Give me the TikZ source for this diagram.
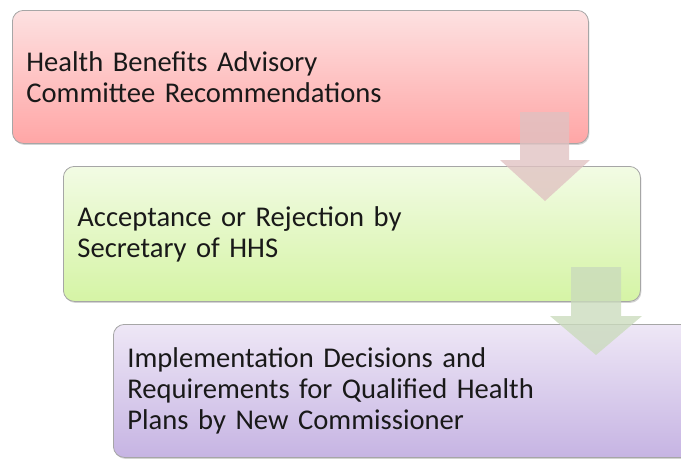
\documentclass[tikz,border=0pt]{standalone}
\usepackage{fontspec}
\setmainfont[WordSpace=0.8]{Carlito}
\usetikzlibrary{shadows}

\definecolor{redtop}{RGB}{253,225,225}
\definecolor{redbot}{RGB}{255,166,166}
\definecolor{greentop}{RGB}{242,251,228}
\definecolor{greenbot}{RGB}{213,244,165}
\definecolor{violettop}{RGB}{238,231,246}
\definecolor{violetbot}{RGB}{198,180,227}
\definecolor{arrowred}{RGB}{224,194,194}
\definecolor{arrowgreen}{RGB}{202,219,188}

\begin{document}
\begin{tikzpicture}[x=1pt, y=-1pt,
    stage/.style={draw=gray!70, line width=0.8pt, rounded corners=11pt,
      anchor=north west, align=left, inner xsep=14pt, minimum height=133pt,
      text=black!90, font=\fontsize{28.6}{31}\selectfont,
      drop shadow={shadow xshift=1pt, shadow yshift=-1.5pt, opacity=0.35, fill=gray}},
    flowarrow/.style={opacity=0.78}]
  \clip (0,0) rectangle (681,459);

  \node[stage, top color=redtop, bottom color=redbot, text width=548pt] (advisory) at (12,10)
    {Health Benefits Advisory\\Committee Recommendations};
  \node[stage, top color=greentop, bottom color=greenbot, text width=549pt, minimum height=135pt] (secretary) at (63,166)
    {Acceptance or Rejection by\\Secretary of HHS};
  \node[stage, top color=violettop, bottom color=violetbot, text width=560pt] (commissioner) at (113,324)
    {Implementation Decisions and\\Requirements for Qualified Health\\Plans by New Commissioner};

  % block arrows between the stages
  \fill[flowarrow, fill=arrowred] (520,112) -- (569,112) -- (569,160) -- (590,160)
    -- (545,201) -- (500,160) -- (520,160) -- cycle;
  \fill[flowarrow, fill=arrowgreen] (571,267) -- (621,267) -- (621,316) -- (642,316)
    -- (596,355) -- (550,316) -- (571,316) -- cycle;
\end{tikzpicture}
\end{document}
